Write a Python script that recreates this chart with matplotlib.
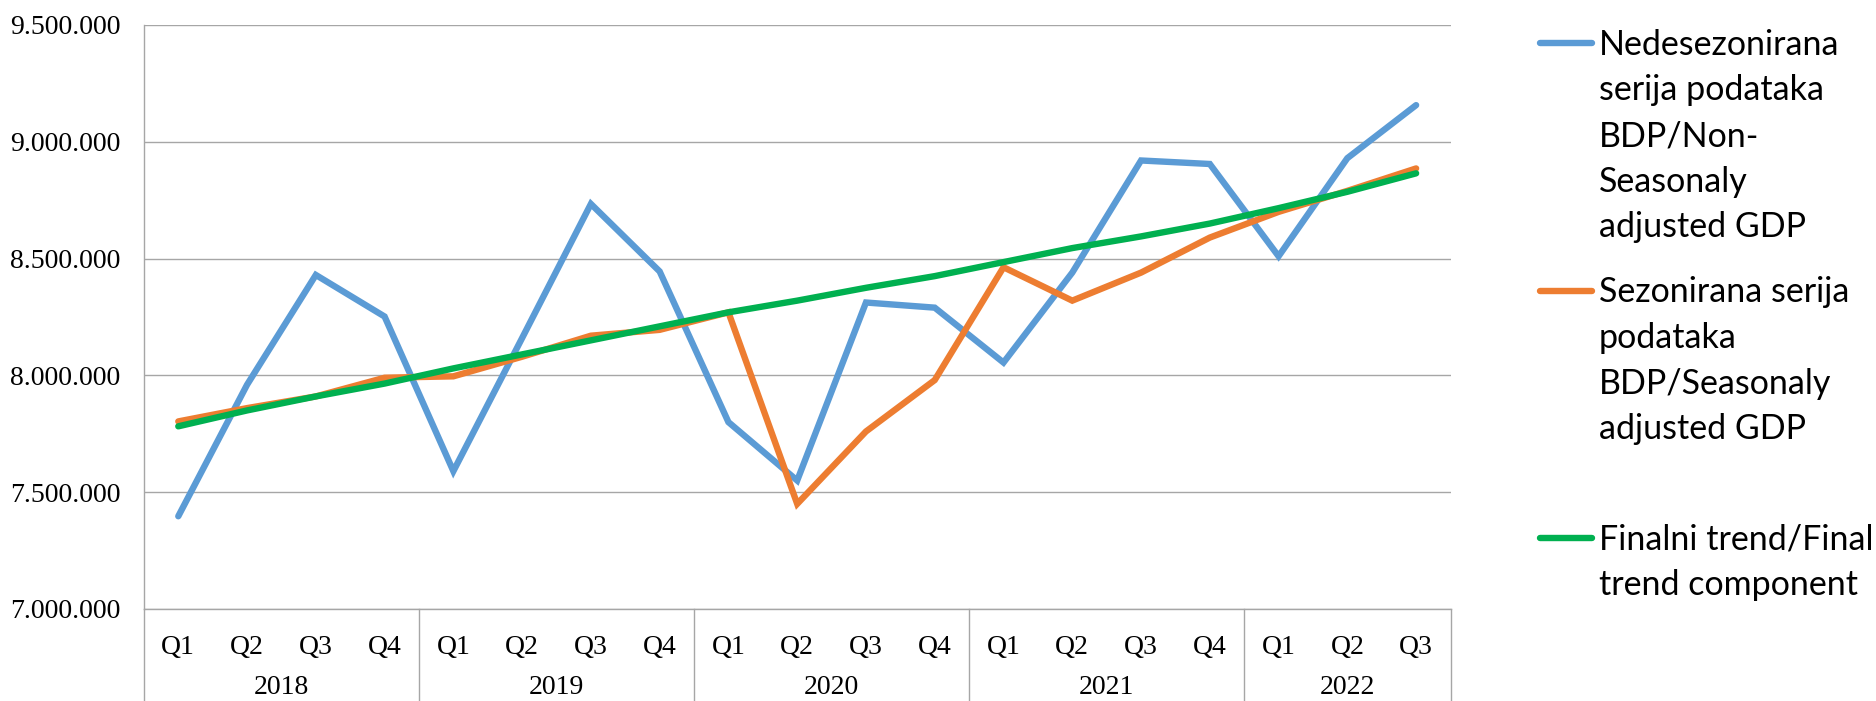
import matplotlib
matplotlib.use("Agg")
import matplotlib.pyplot as plt
from matplotlib.ticker import FuncFormatter, FixedLocator
from matplotlib.lines import Line2D
import matplotlib.transforms as mtransforms

# ---- data ----
years = ["2018", "2019", "2020", "2021", "2022"]
quarters_per_year = [4, 4, 4, 4, 3]
quarter_labels = ["Q1", "Q2", "Q3", "Q4"]

non_seasonal = [7397000, 7960000, 8430000, 8252000, 7590000, 8160000, 8734000, 8445000,
                7800000, 7550000, 8312000, 8290000, 8055000, 8440000, 8920000, 8905000,
                8510000, 8930000, 9157000]
seasonal = [7803000, 7860000, 7910000, 7990000, 7996000, 8080000, 8170000, 8195000,
            8270000, 7450000, 7760000, 7980000, 8463000, 8320000, 8440000, 8590000,
            8700000, 8790000, 8886000]
trend = [7782000, 7850000, 7910000, 7965000, 8030000, 8090000, 8150000, 8210000,
         8270000, 8320000, 8375000, 8425000, 8485000, 8545000, 8595000, 8650000,
         8716000, 8786000, 8865000]

series_labels = [
    ["Nedesezonirana", "serija podataka", "BDP/Non-", "Seasonaly", "adjusted GDP"],
    ["Sezonirana serija", "podataka", "BDP/Seasonaly", "adjusted GDP"],
    ["Finalni trend/Final", "trend component"],
]
colors = ["#5B9BD5", "#ED7D31", "#00B050"]

# ---- figure ----
W, H = 1876, 701
fig = plt.figure(figsize=(W / 100, H / 100), dpi=100)
ax_l, ax_r, ax_t, ax_b = 143.9, 1450.5, 25, 609
ax = fig.add_axes([ax_l / W, 1 - ax_b / H, (ax_r - ax_l) / W, (ax_b - ax_t) / H])

cat_labels = []
for y, n in zip(years, quarters_per_year):
    cat_labels += quarter_labels[:n]
x = list(range(len(cat_labels)))

for vals, c in zip([non_seasonal, seasonal, trend], colors):
    ax.plot(x, vals, color=c, lw=4.6, solid_capstyle="round", solid_joinstyle="miter", zorder=3)

ax.set_xlim(-0.5, len(x) - 0.5)
ax.set_ylim(7000000, 9500000)
ax.yaxis.set_major_locator(FixedLocator([7000000, 7500000, 8000000, 8500000, 9000000, 9500000]))
ax.yaxis.set_major_formatter(FuncFormatter(lambda v, p: f"{v:,.0f}".replace(",", ".")))
ax.grid(axis="y", color="#A6A6A6", lw=1.0, zorder=0)
ax.set_axisbelow(True)

for s in ["top", "right"]:
    ax.spines[s].set_visible(False)
ax.spines["left"].set_color("#A6A6A6")
ax.spines["bottom"].set_color("#A6A6A6")
ax.spines["left"].set_linewidth(1.0)
ax.spines["bottom"].set_linewidth(1.0)

serif = ["Liberation Serif", "DejaVu Serif"]
ax.tick_params(axis="y", length=0, pad=17, labelsize=20)
for t in ax.get_yticklabels():
    t.set_fontfamily(serif)
ax.set_xticks(x)
ax.set_xticklabels(cat_labels, fontsize=20, fontfamily=serif)
ax.tick_params(axis="x", length=0, pad=18.5)

# year group labels and separators
trans = mtransforms.blended_transform_factory(ax.transData, ax.transAxes)
axh = ax_b - ax_t
bottom_frac = -(H - ax_b) / axh
year_y = -(688 - ax_b) / axh
start = 0
bounds = [-0.5]
for yname, n in zip(years, quarters_per_year):
    center = start + (n - 1) / 2
    ax.text(center, year_y, yname, transform=trans, ha="center", va="center",
            fontsize=20, fontfamily=serif)
    start += n
    bounds.append(start - 0.5)
for b in bounds:
    ax.add_line(Line2D([b, b], [0, bottom_frac], transform=trans, color="#A6A6A6",
                       lw=1.0, clip_on=False))

# legend (manual)
sans = ["Lato", "DejaVu Sans"]
first_centers = [43.3, 291, 538]
line_step = 45.6
for lab_lines, c, yc in zip(series_labels, colors, first_centers):
    fig.add_artist(Line2D([1540 / W, 1592 / W], [1 - yc / H, 1 - yc / H], color=c,
                          lw=4.6, solid_capstyle="round"))
    for i, ln in enumerate(lab_lines):
        base = yc + i * line_step + 11.5
        fig.text(1599 / W, 1 - base / H, ln, ha="left", va="baseline",
                 fontsize=24.5, fontfamily=sans, color="#000000")

fig.savefig("out.png", dpi=100)
